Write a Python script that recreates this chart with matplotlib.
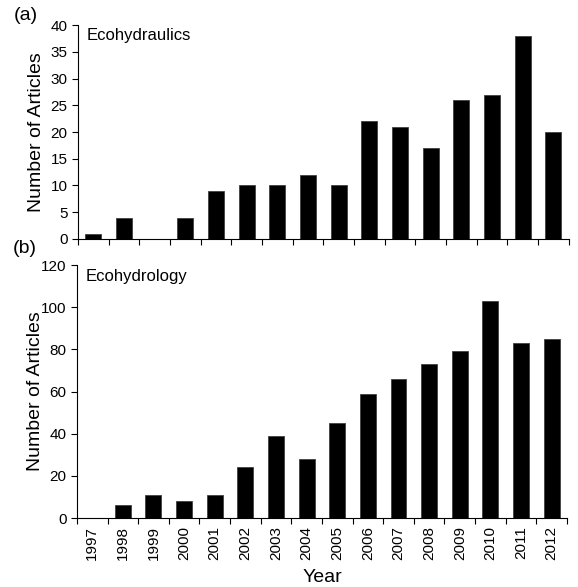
"""Annual article counts for ecohydraulics and ecohydrology, 1997-2012."""

import matplotlib
matplotlib.use("Agg")
import matplotlib.pyplot as plt
import numpy as np

years = [str(y) for y in range(1997, 2013)]
ecohydraulics = [1, 4, 0, 4, 9, 10, 10, 12, 10, 22, 21, 17, 26, 27, 38, 20]
ecohydrology = [0, 6, 11, 8, 11, 24, 39, 28, 45, 59, 66, 73, 79, 103, 83, 85]

plt.rcParams["font.family"] = ["Liberation Sans", "DejaVu Sans"]

fig = plt.figure(figsize=(5.78, 5.87), dpi=100)
ax_a = fig.add_axes([0.135, 0.593, 0.849, 0.364])
ax_b = fig.add_axes([0.133, 0.1175, 0.848, 0.431])

x = np.arange(len(years))
panels = [
    (ax_a, ecohydraulics, "Ecohydraulics", "(a)", (0, 40), 5, 1.008),
    (ax_b, ecohydrology, "Ecohydrology", "(b)", (0, 120), 20, 1.03),
]

for ax, values, name, tag, ylim, step, tag_y in panels:
    ax.bar(x, values, width=0.52, color="black", edgecolor="#404040", linewidth=0.6)
    ax.set_xlim(-0.5, len(years) - 0.5)
    ax.set_ylim(*ylim)
    ax.set_yticks(np.arange(ylim[0], ylim[1] + 1, step))
    ax.set_xticks(np.arange(-0.5, len(years)))
    ax.set_xticklabels([])
    ax.tick_params(axis="both", direction="out", length=4, width=0.8, labelsize=11)
    for side in ("top", "right"):
        ax.spines[side].set_visible(False)
    for side in ("left", "bottom"):
        ax.spines[side].set_linewidth(0.8)
    ax.set_ylabel("Number of Articles", fontsize=14)
    ax.yaxis.set_label_coords(-0.068, 0.5)
    ax.text(0.018, 0.985, name, transform=ax.transAxes, fontsize=12,
            ha="left", va="top")
    ax.text(-0.13, tag_y, tag, transform=ax.transAxes, fontsize=14,
            ha="left", va="bottom")

ax_b.set_xticks(x, minor=True)
ax_b.set_xticklabels(years, minor=True, rotation=90)
ax_b.tick_params(axis="x", which="minor", length=0, labelsize=11, pad=6)
ax_b.set_xlabel("Year", fontsize=14, labelpad=6)

fig.savefig("out.png", dpi=100)
